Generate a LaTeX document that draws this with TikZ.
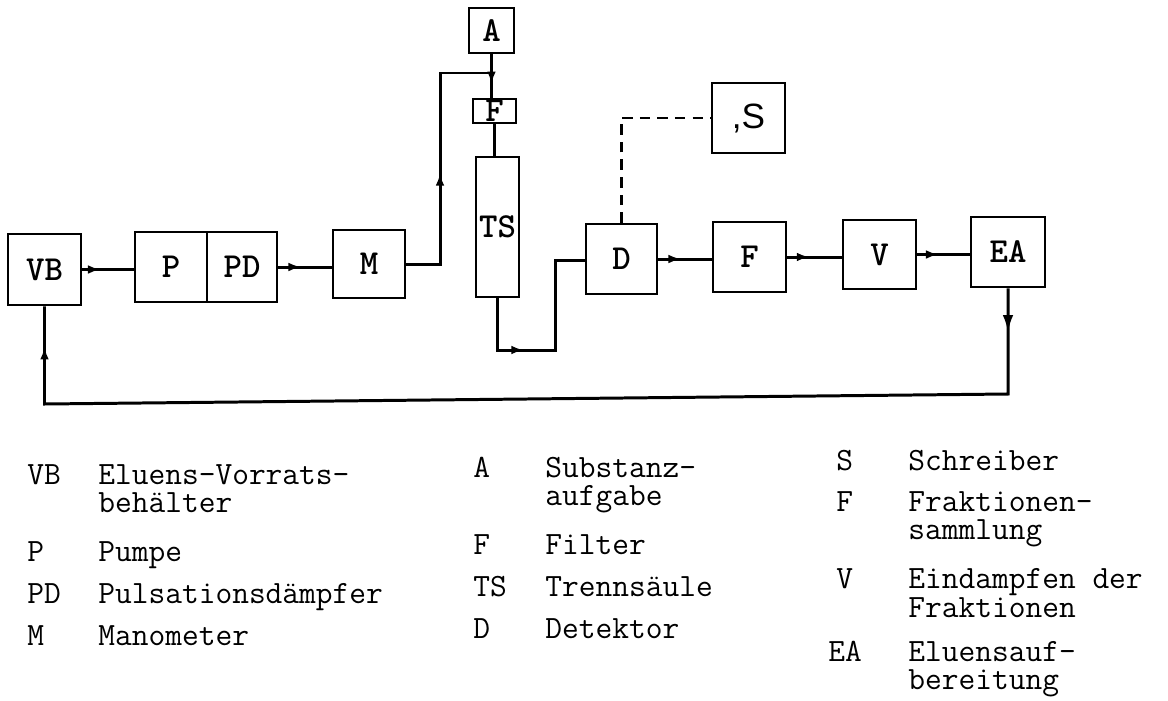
\documentclass[tikz,border=0pt]{standalone}
\usepackage{fontspec}
\newfontfamily\sansS{Liberation Sans}
\usetikzlibrary{arrows.meta,decorations.markings}
\begin{document}
\begin{tikzpicture}[x=0.02cm,y=-0.02cm,
  box/.style={draw, line width=1.5pt, inner sep=0pt, font=\fontsize{20}{22}\selectfont\ttfamily\bfseries},
  flow/.style={line width=1.7pt, line join=miter},
  arr/.style={postaction={decorate}, decoration={markings, mark=at position #1 with {\arrow{Latex[length=7pt,width=5pt]}}}},
  leg/.style={anchor=base west, inner sep=0pt, font=\fontsize{18.5}{21}\selectfont\ttfamily}
]
\useasboundingbox (0,0) rectangle (1168,700);

% boxes
\node[box, minimum width=1.46cm, minimum height=1.42cm] (VB) at (44.5,269.5) {VB};
\node[box, minimum width=1.44cm, minimum height=1.40cm] (P)  at (171,267) {P};
\node[box, minimum width=1.40cm, minimum height=1.40cm] (PD) at (242,267) {PD};
\node[box, minimum width=1.44cm, minimum height=1.36cm] (M)  at (369,264) {M};
\node[box, minimum width=0.90cm, minimum height=0.90cm] (A)  at (491.5,30.5) {A};
\node[box, minimum width=0.86cm, minimum height=0.48cm] (Fi) at (494.5,111) {F};
\node[box, minimum width=0.86cm, minimum height=2.80cm] (TS) at (497.5,227) {TS};
\node[box, minimum width=1.42cm, minimum height=1.40cm] (D)  at (621.5,259) {D};
\node[box, minimum width=1.46cm, minimum height=1.40cm] (S)  at (748.5,118) {\sansS\mdseries ,S};
\node[box, minimum width=1.46cm, minimum height=1.40cm] (F)  at (749.5,257) {F};
\node[box, minimum width=1.46cm, minimum height=1.38cm] (V)  at (879.5,254.5) {V};
\node[box, minimum width=1.48cm, minimum height=1.40cm] (EA) at (1008,252) {EA\hspace{0.25cm}};

% coordinates
\coordinate (m1) at (440,264);
\coordinate (m2) at (440,73);
\coordinate (jA) at (A.south |- m2);
\coordinate (t1) at (497.5,350);
\coordinate (t2) at (555,350);
\coordinate (t3) at (555,260);
\coordinate (b1) at (1008,394);
\coordinate (b2) at (44.5,404);

% connectors
\draw[flow, arr=0.35] (VB.east) -- (VB.east -| P.west);
\draw[flow, arr=0.42] (PD.east) -- (PD.east -| M.west);
\draw[flow, arr=0.45] (M.east) -- (m1) -- (m2) -- (jA);
\draw[flow, arr=0.68] (A.south) -- (A.south |- Fi.north);
\draw[flow] (Fi.south) -- (Fi.south |- TS.north);
\draw[flow, arr=0.34] (TS.south) -- (t1) -- (t2) -- (t3) -- (t3 -| D.west);
\draw[line width=1.3pt, dash pattern=on 6pt off 4pt] (D.north) -- (D.north |- S.west) -- (S.west);
\draw[flow, arr=0.42] (D.east) -- (D.east -| F.west);
\draw[flow, arr=0.40] (F.east) -- (F.east -| V.west);
\draw[flow, arr=0.40] (V.east) -- (V.east -| EA.west);
\draw[flow, postaction={decorate}, decoration={markings,
    mark=at position 0.038 with {\arrow{Latex[length=10pt,width=6pt]}},
    mark=at position 0.965 with {\arrow{Latex[length=7pt,width=5pt]}}}]
  (EA.south) -- (b1) -- (b2) -- (VB.south);

% legend column 1
\node[leg] (l1a) at (27,484) {VB};
\node[leg] (l1b) at (98,484) {Eluens-Vorrats-};
\node[leg] (l1c) at (98,512) {behälter};
\node[leg] (l2a) at (27,561) {P};
\node[leg] (l2b) at (98,561) {Pumpe};
\node[leg] (l3a) at (27,603) {PD};
\node[leg] (l3b) at (98,603) {Pulsationsdämpfer};
\node[leg] (l4a) at (27,645) {M};
\node[leg] (l4b) at (98,645) {Manometer};
% legend column 2
\node[leg] (k1a) at (473,477) {A};
\node[leg] (k1b) at (545,477) {Substanz-};
\node[leg] (k1c) at (545,505) {aufgabe};
\node[leg] (k2a) at (473,554) {F};
\node[leg] (k2b) at (545,554) {Filter};
\node[leg] (k3a) at (473,596) {TS};
\node[leg] (k3b) at (545,596) {Trennsäule};
\node[leg] (k4a) at (473,638) {D};
\node[leg] (k4b) at (545,638) {Detektor};
% legend column 3
\node[leg] (j1a) at (836,470) {S};
\node[leg] (j1b) at (908,470) {Schreiber};
\node[leg] (j2a) at (836,511) {F};
\node[leg] (j2b) at (908,511) {Fraktionen-};
\node[leg] (j2c) at (908,539) {sammlung};
\node[leg] (j3a) at (836,588) {V};
\node[leg] (j3b) at (908,588) {Eindampfen der};
\node[leg] (j3c) at (908,617) {Fraktionen};
\node[leg] (j4a) at (828,661) {EA};
\node[leg] (j4b) at (908,661) {Eluensauf-};
\node[leg] (j4c) at (908,689) {bereitung};
\end{tikzpicture}
\end{document}
